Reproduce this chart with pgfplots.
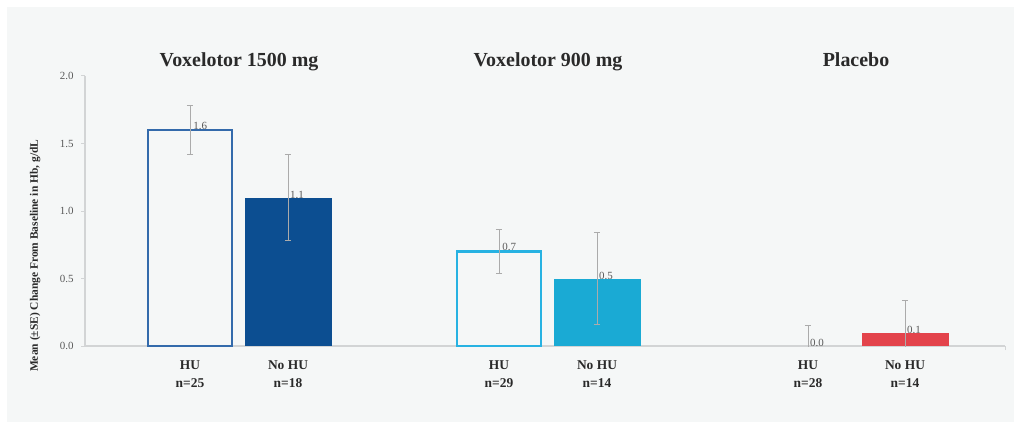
\documentclass[border=0pt]{standalone}
\usepackage{pgfplots}
\pgfplotsset{compat=1.18}
\usepackage{fontspec}
\setmainfont{Liberation Serif}

\definecolor{panel}{HTML}{F5F7F7}
\definecolor{axisgray}{HTML}{D2D4D5}
\definecolor{errgray}{HTML}{ABABAB}
\definecolor{ticktext}{HTML}{5A5A5A}
\definecolor{labeltext}{HTML}{2A2A2A}
\definecolor{blueline}{HTML}{336AAB}
\definecolor{bluedark}{HTML}{0C4E91}
\definecolor{cyanline}{HTML}{27B2E2}
\definecolor{cyanfill}{HTML}{1AAAD4}
\definecolor{redfill}{HTML}{E3434B}

\pgfkeys{/pgf/number format/.cd, fixed, fixed zerofill, precision=1, assume math mode=true}

\begin{document}
\begin{tikzpicture}[x=1bp,y=1bp]
% panel behind the chart
\fill[white] (0,0) rectangle (1021,429);
\fill[panel] (7,7) rectangle (1014,422);

\begin{axis}[
  at={(85bp,83bp)}, anchor=south west,
  scale only axis, width=920bp, height=270bp,
  xmin=85, xmax=1005, ymin=0, ymax=2,
  clip mode=individual,
  axis x line=bottom, axis y line=left,
  axis line style={-, draw=axisgray, line width=1.3bp},
  ybar, bar shift=0pt,
  ytick={0,0.5,1,1.5,2},
  yticklabel style={/pgf/number format/fixed, /pgf/number format/fixed zerofill,
    /pgf/number format/precision=1, /pgf/number format/assume math mode=true,
    font=\fontsize{11}{12}\selectfont, text=ticktext, xshift=-4bp},
  ytick style={draw=axisgray, line width=1bp},
  tick align=outside, major tick length=4bp,
  xtick={190,288,499,597,808,905},
  xticklabels={{HU\\n=25},{No HU\\n=18},{HU\\n=29},{No HU\\n=14},{HU\\n=28},{No HU\\n=14}},
  xticklabel style={font=\bfseries\fontsize{13.5}{18}\selectfont, text=labeltext, align=center, yshift=-7bp},
  xtick style={draw=none},
  extra x ticks={1005}, extra x tick labels={},
  extra x tick style={xtick style={draw=axisgray, line width=1bp}},
  ylabel={Mean (±SE) Change From Baseline in Hb, g/dL},
  ylabel style={font=\bfseries\fontsize{11.5}{12}\selectfont, text=labeltext,
    at={(rel axis cs:-0.0543,0.334)}, anchor=center},
  nodes near coords,
  every node near coord/.append style={font=\fontsize{11}{12}\selectfont, text=ticktext,
    anchor=south west, xshift=1bp, yshift=-2bp, inner sep=1bp},
  error bars/y dir=both, error bars/y explicit,
  error bars/error mark=-,
  error bars/error bar style={draw=errgray, line width=1bp},
  error bars/error mark options={rotate=90, draw=errgray, line width=1bp, mark size=3.2bp},
]
% Voxelotor 1500 mg
\addplot[draw=blueline, fill=none, line width=2.8bp, bar width=84]
  coordinates {(190,1.6) +- (0,0.185)};
\addplot[draw=none, fill=bluedark, bar width=87]
  coordinates {(288,1.1) +- (0,0.32)};
% Voxelotor 900 mg
\addplot[draw=cyanline, fill=none, line width=2.8bp, bar width=84]
  coordinates {(499,0.7) +- (0,0.16)};
\addplot[draw=none, fill=cyanfill, bar width=87]
  coordinates {(597,0.5) +- (0,0.34)};
% Placebo
\addplot[draw=none, fill=none, bar width=87]
  coordinates {(808,0.0) +- (0,0.15)};
\addplot[draw=none, fill=redfill, bar width=87]
  coordinates {(905,0.1) +- (0,0.235)};

% group titles
\node[font=\bfseries\fontsize{20}{24}\selectfont, text=labeltext, anchor=base] at (axis cs:239,2.067) {Voxelotor 1500 mg};
\node[font=\bfseries\fontsize{20}{24}\selectfont, text=labeltext, anchor=base] at (axis cs:548,2.067) {Voxelotor 900 mg};
\node[font=\bfseries\fontsize{20}{24}\selectfont, text=labeltext, anchor=base] at (axis cs:856,2.067) {Placebo};
\end{axis}
\end{tikzpicture}
\end{document}
